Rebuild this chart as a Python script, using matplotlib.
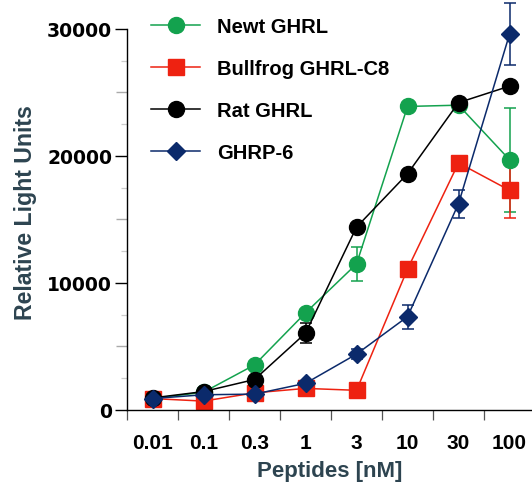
import numpy as np
import matplotlib
matplotlib.use("Agg")
import matplotlib.pyplot as plt
from matplotlib.ticker import FixedLocator

# ----------------------------
# Datos
# ----------------------------
doses = ["0.01", "0.1", "0.3", "1", "3", "10", "30", "100"]

newt = [900, 1400, 3550, 7650, 11500, 23900, 24000, 19700]
newt_err = [0, 0, 0, 0, 1350, 0, 0, 4100]

bullfrog = [900, 700, 1350, 1700, 1550, 11100, 19450, 17300]
bullfrog_err = [0, 0, 0, 0, 0, 0, 0, 2200]

rat = [950, 1450, 2400, 6050, 14400, 18600, 24200, 25500]
rat_err = [0, 0, 0, 800, 0, 0, 0, 0]

ghrp6 = [900, 1200, 1250, 2100, 4400, 7350, 16250, 29600]
ghrp6_err = [0, 0, 0, 0, 400, 950, 1100, 2450]

y_major = [0, 10000, 20000, 30000]
y_mid = [5000, 15000, 25000]
y_minor = [2500, 7500, 12500, 17500, 22500, 27500]

series = [
    ("Newt GHRL", newt, newt_err, "#13a24e", "o", 11.5),
    ("Bullfrog GHRL-C8", bullfrog, bullfrog_err, "#ee2211", "s", 11),
    ("Rat GHRL", rat, rat_err, "#000000", "o", 11.5),
    ("GHRP-6", ghrp6, ghrp6_err, "#0b2a6b", "D", 9),
]

plt.rcParams["font.family"] = ["Liberation Sans", "DejaVu Sans"]
plt.rcParams["font.weight"] = "bold"

W, H = 532, 485
fig = plt.figure(figsize=(W / 100, H / 100), dpi=100)
ax = fig.add_axes([127 / W, 74 / H, (W - 127) / W, (H - 74) / H])

x = np.arange(len(doses))
handles, labels = [], []
for name, vals, err, col, mk, ms in series:
    cont = ax.errorbar(x, vals, yerr=err, color=col, marker=mk, markersize=ms,
                       linewidth=1.1, elinewidth=1.1, capsize=4.3, capthick=1.1,
                       markeredgecolor=col)
    handles.append(cont[0])
    labels.append(name)

ax.set_xlim(-0.5, 7.44)
ax.set_ylim(0, 32360)

for s in ["top", "right"]:
    ax.spines[s].set_visible(False)
ax.spines["left"].set_bounds(0, 30000)
ax.spines["left"].set_linewidth(1.0)
ax.spines["bottom"].set_linewidth(1.0)

ax.set_xticks(x)
ax.set_xticklabels(doses, fontsize=15, fontweight="bold")
ax.xaxis.set_minor_locator(FixedLocator(np.arange(-0.5, 7.5, 1.0)))
ax.tick_params(axis="x", which="major", length=0, pad=16.5)
ax.tick_params(axis="x", which="minor", length=7.2, width=0.9, color="#555555")

ax.set_yticks(y_major)
ax.set_yticklabels([str(v) for v in y_major], fontsize=13.5, fontweight="bold",
                   family="DejaVu Sans")
ax.yaxis.set_minor_locator(FixedLocator(y_minor))
ax.tick_params(axis="y", which="major", length=8.6, width=1.0, pad=2)
ax.tick_params(axis="y", which="minor", length=4.3, width=0.9, color="#cccccc")

sec = ax.secondary_yaxis("left")
sec.spines["left"].set_visible(False)
sec.set_yticks(y_mid)
sec.set_yticklabels([])
sec.tick_params(axis="y", length=8, width=1.0, color="#aaaaaa")

lab_col = "#2d4450"
ax.set_xlabel("Peptides [nM]", fontsize=16, fontweight="bold", color=lab_col, labelpad=5.5)
ax.set_ylabel("Relative Light Units", fontsize=16.7, fontweight="bold", color=lab_col,
              labelpad=7.5, y=0.482)

leg = ax.legend(handles, labels, loc="upper left", bbox_to_anchor=(151 / W, 1 - 18 / H),
                bbox_transform=fig.transFigure, frameon=False,
                prop={"size": 14.5, "weight": "bold"}, handlelength=2.45,
                handletextpad=0.85, labelspacing=1.15, borderpad=0, borderaxespad=0)

fig.savefig("out.png", dpi=100)
